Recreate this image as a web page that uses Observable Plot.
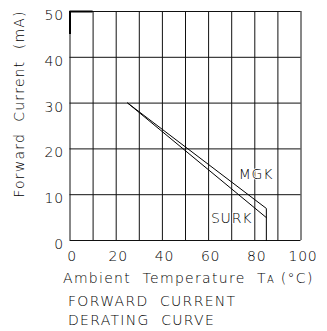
<!DOCTYPE html>
<html>
<head>
<meta charset="utf-8">
<script src="https://cdn.jsdelivr.net/npm/d3@7"></script>
<script src="https://cdn.jsdelivr.net/npm/@observablehq/plot@0.6"></script>
<style>
  html, body { margin: 0; padding: 0; background: #fff; }
  #chart { width: 327px; height: 292px; }
  .cap { font-family: "DejaVu Sans", sans-serif; font-size: 14px; font-weight: 200; letter-spacing: 1.3px; color: #000; margin-left: 68px; line-height: 19px; }
  .cap:first-of-type { margin-top: 1px; }
  svg text { font-weight: 200; }
</style>
</head>
<body>
<div id="chart"></div>
<script>
const xTicks = [0, 20, 40, 60, 80, 100];
const yTicks = [0, 10, 20, 30, 40, 50];
const gridX = [0, 10, 20, 30, 40, 50, 60, 70, 80, 90, 100];
const gridY = [0, 10, 20, 30, 40, 50];
const mgkTemp = [25, 85, 85];
const mgkCurrent = [30, 7, 0];
const surkTemp = [25, 85];
const surkCurrent = [30, 5];
const seriesNames = ["MGK", "SURK"];
const seriesLabelTemp = [73, 61];
const seriesLabelCurrent = [14.4, 4.8];
const xLabel = "Ambient  Temperature  T";
const yLabel = "Forward  Current  (mA)";
const captionLines = ["FORWARD  CURRENT", "DERATING  CURVE"];

const mgk = mgkTemp.map((t, i) => ({t, c: mgkCurrent[i]}));
const surk = surkTemp.map((t, i) => ({t, c: surkCurrent[i]}));
const labels = seriesNames.map((n, i) => ({n, t: seriesLabelTemp[i], c: seriesLabelCurrent[i]}));

const font = "DejaVu Sans, sans-serif";
const plot = Plot.plot({
  width: 327,
  height: 292,
  marginLeft: 69.5,
  marginRight: 26.5,
  marginTop: 11,
  marginBottom: 52,
  style: {fontFamily: font, fontSize: "14px", color: "#000", background: "#fff"},
  x: {domain: [0, 100]},
  y: {domain: [0, 50]},
  marks: [
    Plot.ruleX(gridX, {stroke: "#111", strokeWidth: 1}),
    Plot.ruleY(gridY, {stroke: "#111", strokeWidth: 1}),
    Plot.ruleY([50], {x1: 0, x2: 10, stroke: "#000", strokeWidth: 2}),
    Plot.ruleX([0], {y1: 45, y2: 50, stroke: "#000", strokeWidth: 2}),
    Plot.line(mgk, {x: "t", y: "c", stroke: "#000", strokeWidth: 1}),
    Plot.line(surk, {x: "t", y: "c", stroke: "#000", strokeWidth: 1}),
    Plot.text(labels, {x: "t", y: "c", text: "n", textAnchor: "start", fontSize: 14, fill: "#000", stroke: "#fff", strokeWidth: 2, paintOrder: "stroke"}),
    Plot.axisX(xTicks, {tickSize: 0, tickPadding: 11, fontSize: 14, dx: 2, label: null}),
    Plot.axisY(yTicks, {tickSize: 0, tickPadding: 6, fontSize: 14, dy: 4, label: null})
  ]
});
document.getElementById("chart").appendChild(plot);
const svg = d3.select(plot);
svg.selectAll("text").attr("letter-spacing", "0.8px");
const xl = svg.append("text")
  .attr("x", 63).attr("y", 283)
  .attr("text-anchor", "start")
  .attr("font-size", 14).attr("letter-spacing", "1.3px").attr("fill", "#000")
  .attr("font-family", font)
  .text(xLabel);
xl.append("tspan").attr("font-size", 10).text("A");
xl.append("tspan").text(" (°C)");
svg.append("text")
  .attr("transform", "translate(24,104) rotate(-90)")
  .attr("text-anchor", "middle")
  .attr("font-size", 14).attr("letter-spacing", "1.2px").attr("fill", "#000")
  .attr("font-family", font)
  .text(yLabel);
for (const line of captionLines) {
  const d = document.createElement("div");
  d.className = "cap";
  d.textContent = line.replace(/  /g, "\u00a0\u00a0");
  document.body.appendChild(d);
}
</script>
</body>
</html>
